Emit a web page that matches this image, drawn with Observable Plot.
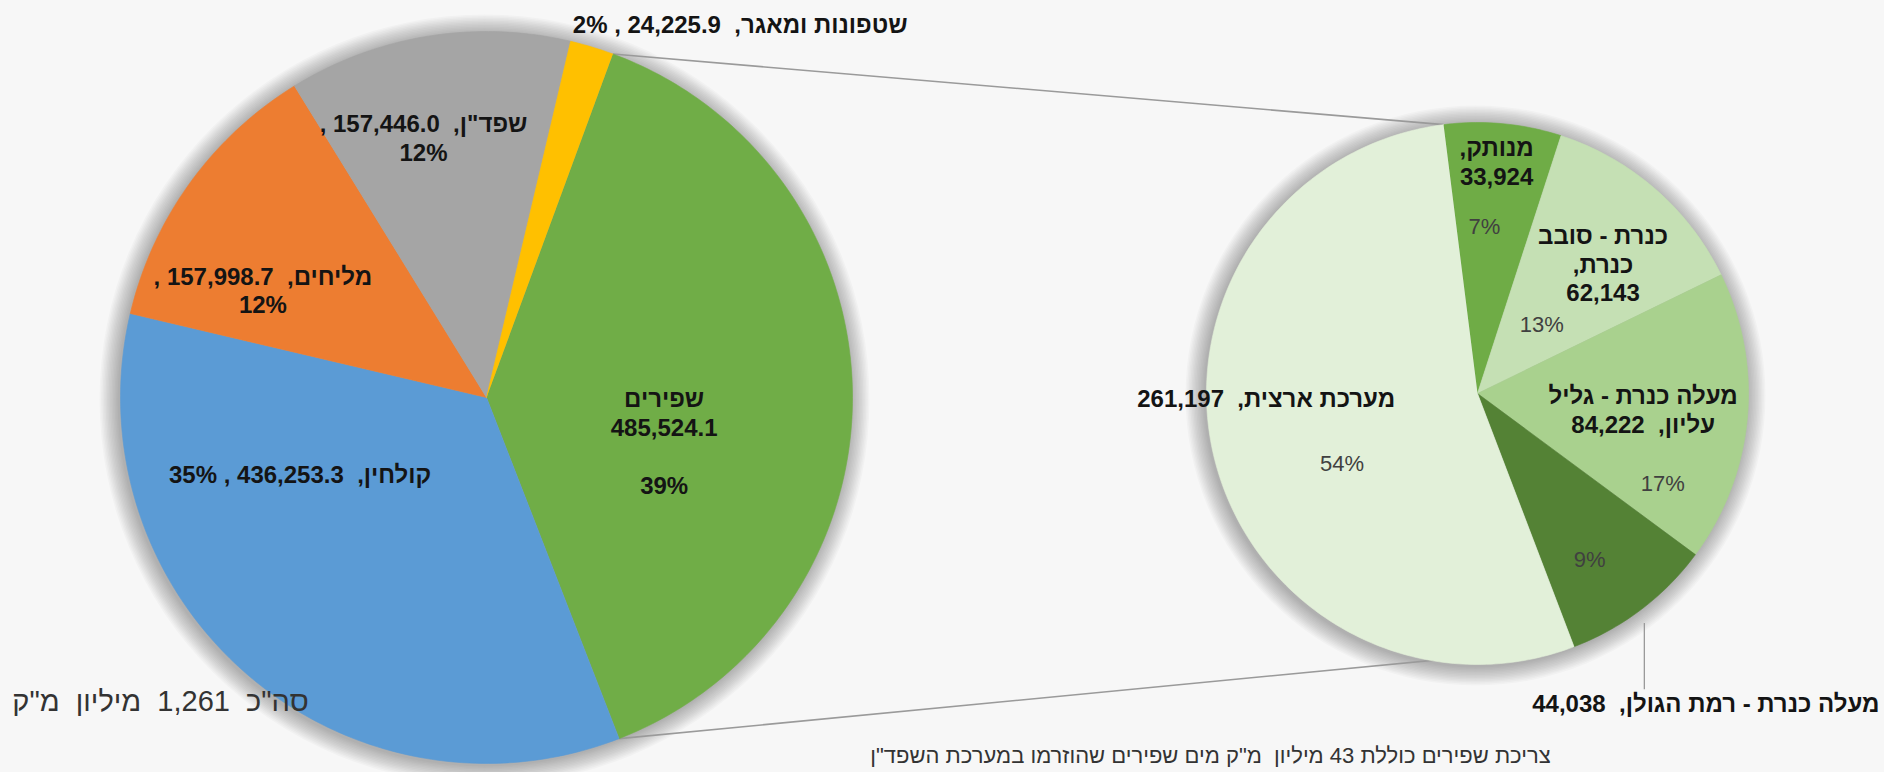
<!DOCTYPE html>
<html>
<head>
<meta charset="utf-8">
<script src="https://cdn.jsdelivr.net/npm/d3@7"></script>
<script src="https://cdn.jsdelivr.net/npm/@observablehq/plot@0.6"></script>
<style>
  html, body { margin: 0; padding: 0; background: #f7f7f7; }
  #chart svg { display: block; }
</style>
</head>
<body>
<div id="chart"></div>
<script>
// ---------- DATA ----------
const mainCategories = ["שפירים", "קולחין", "מליחים", "שפד\"ן", "שטפונות ומאגר"];
const mainValues = [485524.1, 436253.3, 157998.7, 157446.0, 24225.9];
const mainPercents = ["39%", "35%", "12%", "12%", "2%"];

const subCategories = ["מנותק", "כנרת - סובב כנרת", "מעלה כנרת - גליל עליון", "מעלה כנרת - רמת הגולן", "מערכת ארצית"];
const subValues = [33924, 62143, 84222, 44038, 261197];
const subPercents = ["7%", "13%", "17%", "9%", "54%"];

const totalText = "סה\"כ  1,261  מיליון  מ\"ק";
const noteText = "צריכת שפירים כוללת 43 מיליון  מ\"ק מים שפירים שהוזרמו במערכת השפד\"ן";

// ---------- STYLE / LAYOUT ----------
const W = 1884, H = 772;
const mainColors = ["#70AD47", "#5B9BD5", "#ED7D31", "#A5A5A5", "#FFC000"];
const subColors = ["#6FAC46", "#C5E0B4", "#A9D18E", "#548235", "#E2F0D9"];
const leftPie = {cx: 486, cy: 397, r: 366, start: 20.2};
const rightPie = {cx: 1477, cy: 393, r: 271, start: -7.2};

// label positions in polar form relative to each pie: [angle (deg, clockwise from top), radius fraction]
const mainLabelPos = [[103.9, 0.50], [247.8, 0.55], [295.7, 0.678], [346.4, 0.732], [34.2, 1.233]];
const subLabelPos = [[4.7, 0.86], [44, 0.667], [95.5, 0.614], [143.6, 1.42], [268.9, 0.78]];
const subPctPos = [[2.4, 0.615], [43.3, 0.346], [115.9, 0.76], [146, 0.74], [242.6, 0.563]];
const leaderAngle = 142;

const fmt1 = d3.format(",.1f");
const fmt0 = d3.format(",");
const rad = d => d * Math.PI / 180;
const polar = (pie, deg, frac) => ({x: pie.cx + pie.r * frac * Math.sin(rad(deg)), y: pie.cy - pie.r * frac * Math.cos(rad(deg))});

function slicePolygons(values, colors, pie, prefix) {
  const total = d3.sum(values);
  const pts = [];
  const bounds = [];
  let a = pie.start;
  values.forEach((v, i) => {
    const a0 = a, a1 = a + v / total * 360;
    const key = prefix + i;
    pts.push({key, color: colors[i], x: pie.cx, y: pie.cy});
    const n = Math.max(2, Math.ceil(a1 - a0));
    for (let k = 0; k <= n; k++) {
      const p = polar(pie, a0 + (a1 - a0) * k / n, 1);
      pts.push({key, color: colors[i], x: p.x, y: p.y});
    }
    bounds.push([a0, a1]);
    a = a1;
  });
  return {pts, bounds};
}

const left = slicePolygons(mainValues, mainColors, leftPie, "m");
const right = slicePolygons(subValues, subColors, rightPie, "s");

// soft halo (shadow) rings behind each pie
const shadowRings = [];
[leftPie, rightPie].forEach(p => {
  for (let dr = 1; dr <= 19; dr += 1.5) shadowRings.push({x: p.cx - 2, y: p.cy + 2, r: p.r + dr});
});

// connector lines: edges of the primary slice -> outer edges of the secondary pie group
const subTotalAll = d3.sum(subValues);
const rightEnd = rightPie.start + d3.sum(subValues.slice(0, 4)) / subTotalAll * 360;
const connectors = [
  {a: polar(leftPie, left.bounds[0][0], 1), b: polar(rightPie, rightPie.start, 1)},
  {a: polar(leftPie, left.bounds[0][1], 1), b: polar(rightPie, rightEnd, 1)}
];

// label texts
const mainTexts = mainCategories.map((c, i) => {
  const v = fmt1(mainValues[i]), p = mainPercents[i];
  if (i === 0) return `${c}\n${v}\n\n${p}`;
  if (i === 2 || i === 3) return `${c},  ${v} ,\n${p}`;
  return `${c},  ${v} , ${p}`;
});
const subTexts = [
  `${subCategories[0]},\n${fmt0(subValues[0])}`,
  `כנרת - סובב\nכנרת,\n${fmt0(subValues[1])}`,
  `מעלה כנרת - גליל\nעליון,  ${fmt0(subValues[2])}`,
  `${subCategories[3]},  ${fmt0(subValues[3])}`,
  `${subCategories[4]},  ${fmt0(subValues[4])}`
];

const mainLabelData = mainTexts.map((t, i) => ({text: t, ...polar(leftPie, ...mainLabelPos[i])}));
const subLabelData = subTexts.map((t, i) => ({text: t, ...polar(rightPie, ...subLabelPos[i])}));
const subPctData = subPercents.map((t, i) => ({text: t, ...polar(rightPie, ...subPctPos[i])}));

const leaderEdge = polar(rightPie, leaderAngle, 1);
const leader = [{x1: leaderEdge.x, y1: leaderEdge.y + 16, x2: leaderEdge.x, y2: subLabelData[3].y - 14}];

const chart = Plot.plot({
  width: W,
  height: H,
  margin: 0,
  x: {domain: [0, W], range: [0, W], axis: null},
  y: {domain: [0, H], range: [0, H], axis: null},
  r: {type: "identity"},
  color: {type: "identity"},
  style: {background: "#f7f7f7", fontFamily: "'Liberation Sans', Arimo, Arial, sans-serif", direction: "rtl", overflow: "visible"},
  marks: [
    Plot.dot(shadowRings, {x: "x", y: "y", r: "r", fill: "#000", fillOpacity: 0.022, stroke: "none"}),
    Plot.link(connectors, {x1: d => d.a.x, y1: d => d.a.y, x2: d => d.b.x, y2: d => d.b.y, stroke: "#9a9a9a", strokeWidth: 1.6}),
    Plot.line(left.pts, {x: "x", y: "y", z: "key", fill: "color", stroke: "color", strokeWidth: 0.6, curve: "linear"}),
    Plot.line(right.pts, {x: "x", y: "y", z: "key", fill: "color", stroke: "color", strokeWidth: 0.6, curve: "linear"}),
    Plot.link(leader, {x1: "x1", y1: "y1", x2: "x2", y2: "y2", stroke: "#9a9a9a", strokeWidth: 1.3}),
    Plot.text(mainLabelData, {x: "x", y: "y", text: "text", fontSize: 24, fontWeight: "bold", lineHeight: 1.2, fill: "#141414"}),
    Plot.text(subLabelData, {x: "x", y: "y", text: "text", fontSize: 24, fontWeight: "bold", lineHeight: 1.2, fill: "#141414"}),
    Plot.text(subPctData, {x: "x", y: "y", text: "text", fontSize: 22, fill: "#404040"}),
    Plot.text([totalText], {frameAnchor: "bottom-left", dx: 160, dy: -71, text: d => d, textAnchor: "middle", lineAnchor: "middle", fontSize: 29, fill: "#333333"}),
    Plot.text([noteText], {frameAnchor: "bottom", dx: 268, dy: -17, text: d => d, textAnchor: "middle", lineAnchor: "middle", fontSize: 22, fill: "#333333"})
  ]
});

document.getElementById("chart").appendChild(chart);
</script>
</body>
</html>
